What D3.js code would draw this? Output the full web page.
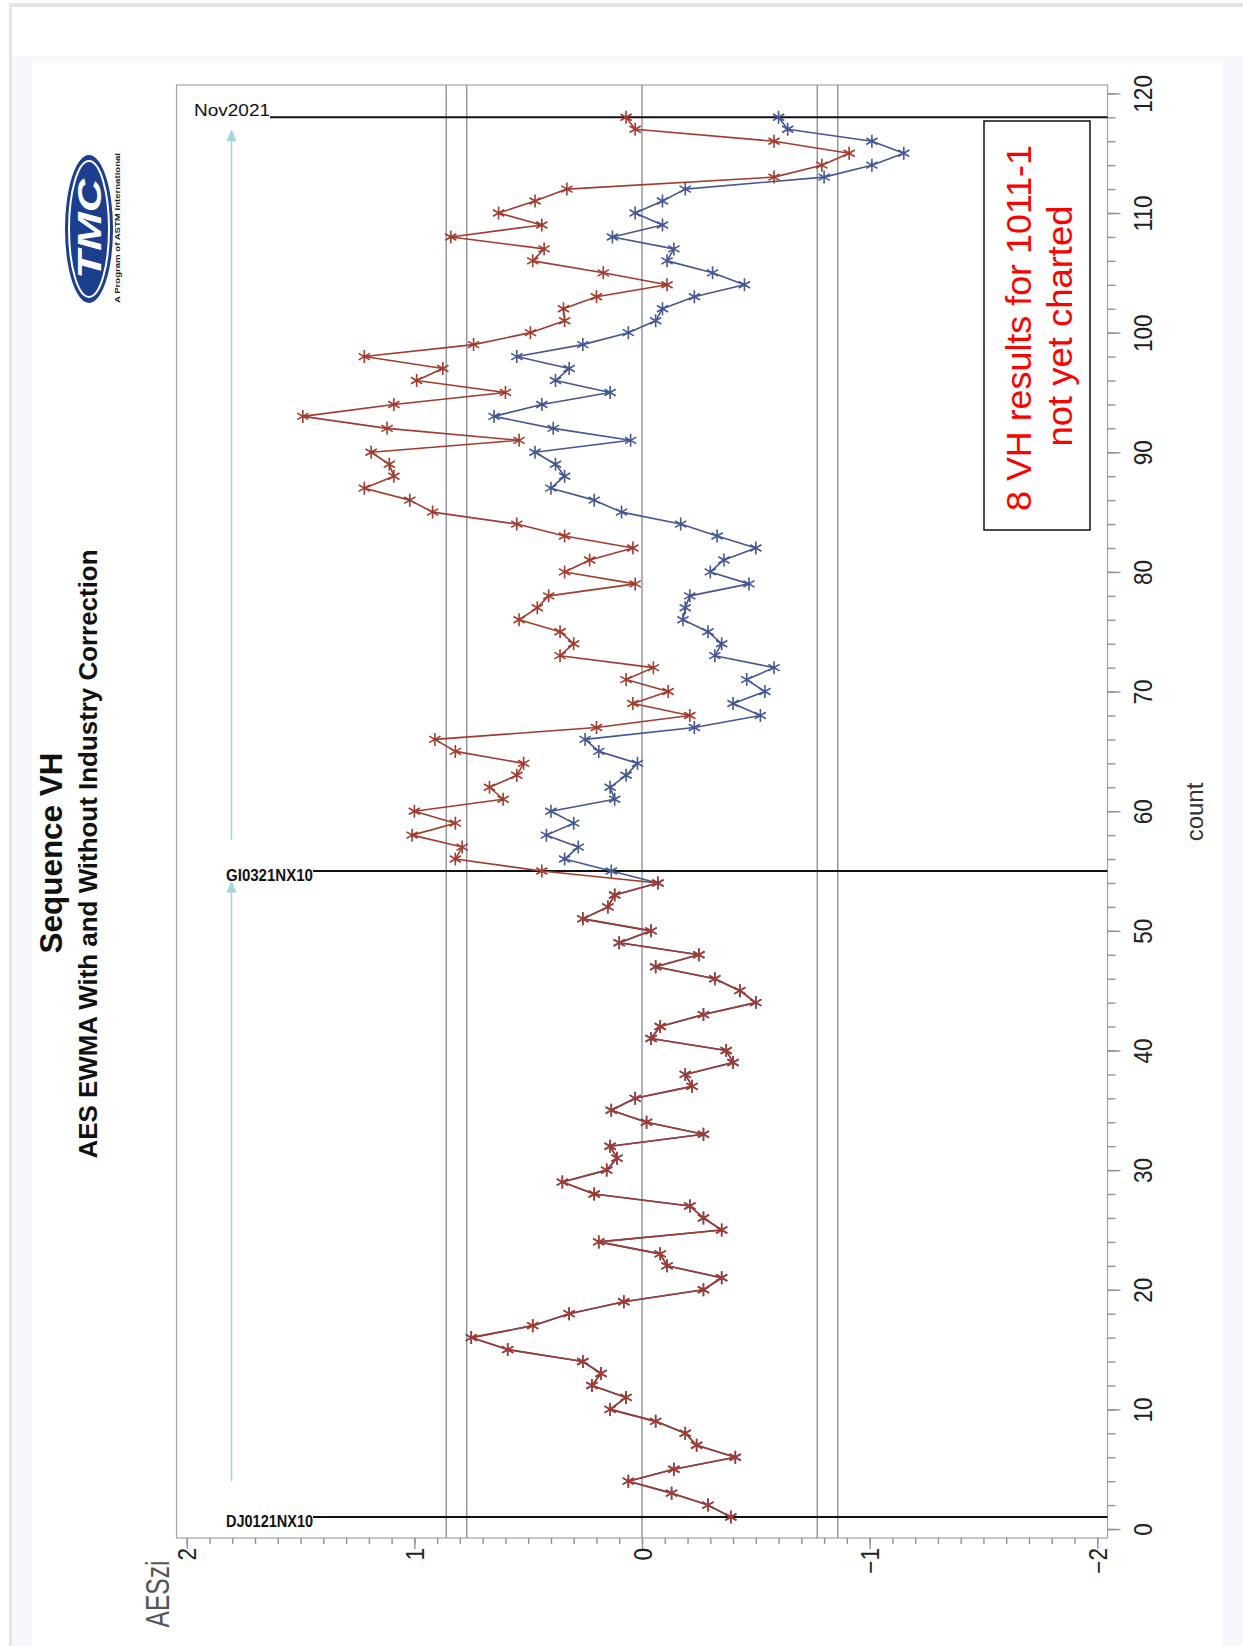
<!DOCTYPE html>
<html>
<head>
<meta charset="utf-8">
<script src="https://cdn.jsdelivr.net/npm/d3@7"></script>
<style>
  body { margin: 0; background: #ffffff; }
  text { font-family: "Liberation Sans", Arial, sans-serif; }
</style>
</head>
<body>
<svg id="chart" width="1243" height="1646"></svg>
<script>
// ---- data -------------------------------------------------------------
// EWMA of AES z-scores, counts 1..118 (without industry correction)
const ewmaUncorrected = [
  -0.39, -0.29, -0.13, 0.06, -0.14, -0.41, -0.24, -0.19, -0.06, 0.14,
   0.07, 0.22, 0.18, 0.26, 0.59, 0.75, 0.48, 0.32, 0.08, -0.27,
  -0.35, -0.11, -0.08, 0.19, -0.35, -0.27, -0.21, 0.21, 0.35, 0.155,
   0.11, 0.14, -0.27, -0.02, 0.135, 0.03, -0.22, -0.19, -0.40, -0.37,
  -0.04, -0.08, -0.27, -0.50, -0.43, -0.32, -0.06, -0.25, 0.10, -0.04,
   0.26, 0.15, 0.12, -0.07, 0.44, 0.82, 0.79, 1.01, 0.82, 1.00,
   0.61, 0.67, 0.55, 0.52, 0.82, 0.91, 0.20, -0.21, 0.04, -0.115,
   0.07, -0.05, 0.36, 0.30, 0.36, 0.54, 0.46, 0.41, 0.03, 0.34,
   0.23, 0.04, 0.34, 0.55, 0.92, 1.02, 1.22, 1.09, 1.11, 1.19,
   0.54, 1.12, 1.49, 1.09, 0.60, 0.99, 0.875, 1.22, 0.74, 0.49,
   0.34, 0.345, 0.20, -0.11, 0.17, 0.48, 0.43, 0.84, 0.44, 0.63,
   0.47, 0.33, -0.58, -0.79, -0.91, -0.58, 0.03, 0.07
];
// EWMA with industry correction, counts 55..118 (earlier counts coincide with the uncorrected series)
const correctedStart = 55;
const ewmaCorrected = [
   0.135, 0.34, 0.28, 0.42, 0.30, 0.40, 0.12, 0.14, 0.07, 0.02,
   0.19, 0.25, -0.23, -0.52, -0.40, -0.54, -0.46, -0.58, -0.32, -0.35,
  -0.29, -0.18, -0.19, -0.21, -0.47, -0.30, -0.36, -0.50, -0.33, -0.17,
   0.09, 0.21, 0.40, 0.34, 0.38, 0.47, 0.05, 0.39, 0.65, 0.44,
   0.14, 0.38, 0.32, 0.55, 0.26, 0.06, -0.06, -0.09, -0.23, -0.45,
  -0.31, -0.11, -0.14, 0.13, -0.09, 0.03, -0.09, -0.19, -0.80, -1.01,
  -1.15, -1.01, -0.64, -0.60
];
const controlLimits = [0.86, 0.77, 0, -0.77, -0.86];
const changeCounts = [1, 55, 118];
const changeLabels = ["DJ0121NX10", "GI0321NX10", "Nov2021"];
const arrowSpans = [[4, 54.2], [57.6, 117]];
const xTickValues = [2, 1, 0, -1, -2];
const yTickValues = d3.range(0, 121, 10);

// ---- series built from the arrays ---------------------------------------
const uncorrected = ewmaUncorrected.map((v, i) => ({ count: i + 1, v }));
const corrected = uncorrected.slice(0, correctedStart - 1)
  .concat(ewmaCorrected.map((v, i) => ({ count: correctedStart + i, v })));

const svg = d3.select("#chart");
const FONT = '"Liberation Sans", Arial, sans-serif';

// page frame
svg.append("rect").attr("x", 0).attr("y", 0).attr("width", 1243).attr("height", 1646).attr("fill", "#ffffff");
svg.append("rect").attr("x", 9).attr("y", 3).attr("width", 1234).attr("height", 4).attr("fill", "#e4e4e4");
svg.append("rect").attr("x", 9).attr("y", 3).attr("width", 3).attr("height", 1643).attr("fill", "#e4e4e4");
svg.append("rect").attr("x", 12).attr("y", 56).attr("width", 1231).attr("height", 1590).attr("fill", "#f6f8fc");
svg.append("rect").attr("x", 32).attr("y", 62).attr("width", 1190).attr("height", 1584).attr("fill", "#ffffff");

// ---- scales --------------------------------------------------------------
const plot = { left: 176.5, right: 1107.5, top: 85, bottom: 1538 };
const x = d3.scaleLinear().domain([2.045, -2.045]).range([plot.left, plot.right]);
const y = d3.scaleLinear().domain([-0.75, 120.7]).range([plot.bottom, plot.top]);

// plot wall
svg.append("rect")
  .attr("x", plot.left).attr("y", plot.top)
  .attr("width", plot.right - plot.left).attr("height", plot.bottom - plot.top)
  .attr("fill", "#ffffff").attr("stroke", "#9ea4aa").attr("stroke-width", 1.2);

// control limit / centre reference lines
svg.append("g").selectAll("line").data(controlLimits).join("line")
  .attr("x1", d => x(d)).attr("x2", d => x(d))
  .attr("y1", plot.top).attr("y2", plot.bottom)
  .attr("stroke", "#8d9399").attr("stroke-width", 1.4);

// ---- axes ----------------------------------------------------------------
const axisColor = "#8d9399";
const yMinor = svg.append("g").attr("transform", `translate(${plot.right},0)`)
  .call(d3.axisRight(y).tickValues(d3.range(0, 121, 2)).tickSize(8).tickFormat(""));
const yMajor = svg.append("g").attr("transform", `translate(${plot.right},0)`)
  .call(d3.axisRight(y).tickValues(yTickValues).tickSize(13).tickFormat(d3.format("d")));
const xMinor = svg.append("g").attr("transform", `translate(0,${plot.bottom})`)
  .call(d3.axisBottom(x).tickValues(d3.range(-20, 21).map(d => d / 10)).tickSize(6).tickFormat(""));
const xMajor = svg.append("g").attr("transform", `translate(0,${plot.bottom})`)
  .call(d3.axisBottom(x).tickValues(xTickValues).tickSize(11).tickFormat(d3.format("d")));

[yMinor, yMajor, xMinor, xMajor].forEach(g => {
  g.select(".domain").remove();
  g.selectAll(".tick line").attr("stroke", axisColor).attr("stroke-width", 1.4);
});

yMajor.selectAll(".tick text")
  .attr("x", null).attr("y", null).attr("dy", null)
  .attr("transform", "translate(44,0) rotate(-90) scale(0.9,1)")
  .attr("text-anchor", "middle")
  .attr("fill", "#222").attr("font-size", 25).attr("font-family", FONT);

xMajor.selectAll(".tick text")
  .attr("x", null).attr("y", null).attr("dy", "0.36em")
  .attr("transform", "translate(0,10) rotate(-90) scale(0.9,1)")
  .attr("text-anchor", "end")
  .attr("fill", "#222").attr("font-size", 25).attr("font-family", FONT);

// axis titles
svg.append("text")
  .attr("transform", "translate(1203,812) rotate(-90)")
  .attr("text-anchor", "middle").attr("font-size", 24).attr("fill", "#333")
  .text("count");
svg.append("text")
  .attr("transform", "translate(169,1594) rotate(-90)")
  .attr("text-anchor", "middle").attr("font-size", 33).attr("fill", "#555")
  .attr("textLength", 67).attr("lengthAdjust", "spacingAndGlyphs")
  .text("AESzi");

// ---- change reference lines with labels ------------------------------------
const changeG = svg.append("g");
changeCounts.forEach((c, i) => {
  const above = c === d3.max(changeCounts);
  const t = changeG.append("text")
    .attr("x", above ? 194 : 226)
    .attr("y", above ? y(c) - 1.5 : y(c) + 10)
    .attr("font-size", 16).attr("font-weight", above ? "normal" : "bold")
    .attr("fill", "#111")
    .attr("textLength", above ? 76 : 87).attr("lengthAdjust", "spacingAndGlyphs")
    .text(changeLabels[i]);
  const x0 = (above ? 194 : 226) + (above ? 76 : 87);
  changeG.append("line")
    .attr("x1", x0).attr("x2", plot.right)
    .attr("y1", y(c)).attr("y2", y(c))
    .attr("stroke", "#111").attr("stroke-width", 2);
});

// ---- arrows marking the periods ---------------------------------------------
const arrowColor = "#a6d5d8";
const arrowX = 231.5;
arrowSpans.forEach(([a, b]) => {
  svg.append("line")
    .attr("x1", arrowX).attr("x2", arrowX)
    .attr("y1", y(a)).attr("y2", y(b) + 10)
    .attr("stroke", arrowColor).attr("stroke-width", 1.5);
  svg.append("path")
    .attr("d", `M${arrowX},${y(b)} L${arrowX - 5},${y(b) + 12} L${arrowX + 5},${y(b) + 12} Z`)
    .attr("fill", arrowColor);
});

// ---- series ---------------------------------------------------------------
const line = d3.line().x(d => x(d.v)).y(d => y(d.count));
const r = 6.5;
const markerPath = `M0,${-r}L0,${r}` +
  `M${-r * 0.866},${-r * 0.5}L${r * 0.866},${r * 0.5}` +
  `M${-r * 0.866},${r * 0.5}L${r * 0.866},${-r * 0.5}`;

function drawSeries(data, color) {
  const g = svg.append("g");
  g.append("path").datum(data)
    .attr("d", line).attr("fill", "none")
    .attr("stroke", color).attr("stroke-width", 1.6).attr("stroke-linejoin", "round");
  g.selectAll("path.m").data(data).join("path").attr("class", "m")
    .attr("transform", d => `translate(${x(d.v)},${y(d.count)})`)
    .attr("d", markerPath).attr("fill", "none")
    .attr("stroke", color).attr("stroke-width", 1.6);
}
drawSeries(corrected, "#445694");
drawSeries(uncorrected, "#a23a2e");

// ---- note box --------------------------------------------------------------
svg.append("rect")
  .attr("x", 984).attr("y", 121).attr("width", 106).attr("height", 409)
  .attr("fill", "#ffffff").attr("stroke", "#111").attr("stroke-width", 1.5);
svg.append("text")
  .attr("transform", "translate(1031,328) rotate(-90)")
  .attr("text-anchor", "middle").attr("font-size", 35).attr("fill", "#ff0000")
  .attr("textLength", 366).attr("lengthAdjust", "spacingAndGlyphs")
  .text("8 VH results for 1011-1");
svg.append("text")
  .attr("transform", "translate(1072,326) rotate(-90)")
  .attr("text-anchor", "middle").attr("font-size", 35).attr("fill", "#ff0000")
  .attr("textLength", 241).attr("lengthAdjust", "spacingAndGlyphs")
  .text("not yet charted");

// ---- titles ----------------------------------------------------------------
svg.append("text")
  .attr("transform", "translate(62,853) rotate(-90)")
  .attr("text-anchor", "middle").attr("font-size", 31).attr("font-weight", "bold").attr("fill", "#111")
  .attr("textLength", 201).attr("lengthAdjust", "spacingAndGlyphs")
  .text("Sequence VH");
svg.append("text")
  .attr("transform", "translate(97,854) rotate(-90)")
  .attr("text-anchor", "middle").attr("font-size", 26).attr("font-weight", "bold").attr("fill", "#111")
  .attr("textLength", 609).attr("lengthAdjust", "spacingAndGlyphs")
  .text("AES EWMA With and Without Industry Correction");

// ---- logo --------------------------------------------------------------------
const logo = svg.append("g").attr("transform", "translate(89,229)");
logo.append("ellipse").attr("rx", 24).attr("ry", 74).attr("fill", "#1b3f8e");
logo.append("ellipse").attr("rx", 20).attr("ry", 68).attr("fill", "none").attr("stroke", "#ffffff").attr("stroke-width", 2);
logo.append("ellipse").attr("rx", 17).attr("ry", 64).attr("fill", "#1b3f8e");
logo.append("text")
  .attr("transform", "rotate(-90)").attr("text-anchor", "middle").attr("dy", "0.36em")
  .attr("font-size", 34).attr("font-weight", "bold").attr("font-style", "italic").attr("fill", "#ffffff")
  .attr("textLength", 100).attr("lengthAdjust", "spacingAndGlyphs")
  .text("TMC");
svg.append("text")
  .attr("transform", "translate(120,228) rotate(-90)")
  .attr("text-anchor", "middle").attr("font-size", 7).attr("font-weight", "bold").attr("fill", "#222")
  .attr("textLength", 150).attr("lengthAdjust", "spacingAndGlyphs")
  .text("A Program of ASTM International");
</script>
</body>
</html>
